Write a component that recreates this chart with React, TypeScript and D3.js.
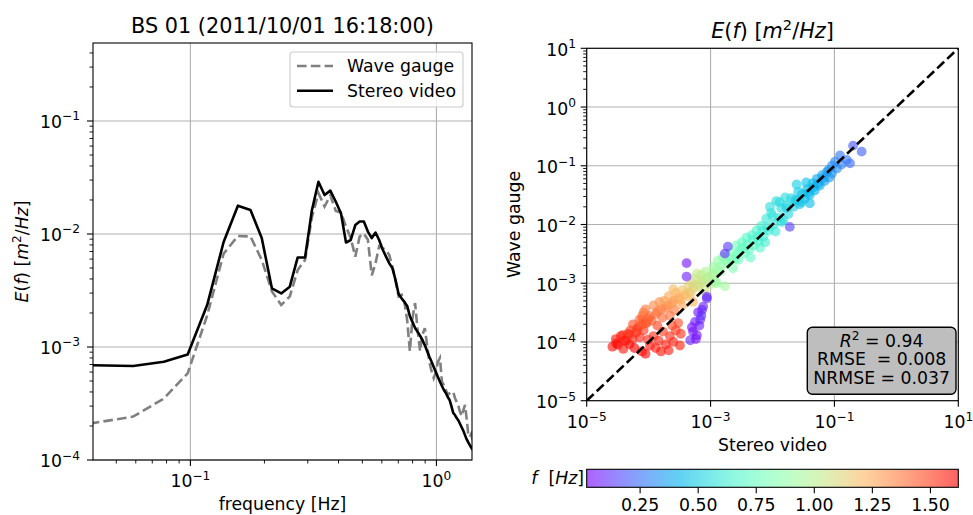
import React from 'react';
import * as d3 from 'd3';

// ---------- DATA ----------
// frequency grid of the spectra [Hz]
const freqs = [
  0.039, 0.0585, 0.078, 0.0975, 0.117, 0.1365, 0.156, 0.1755, 0.195, 0.2145,
  0.234, 0.2535, 0.273, 0.2925, 0.312, 0.3315, 0.351, 0.3705, 0.39, 0.4095,
  0.429, 0.4485, 0.468, 0.4875, 0.507, 0.5265, 0.546, 0.5655, 0.585, 0.6045,
  0.624, 0.6435, 0.663, 0.6825, 0.702, 0.7215, 0.741, 0.7605, 0.78, 0.7995,
  0.819, 0.8385, 0.858, 0.8775, 0.897, 0.9165, 0.936, 0.9555, 0.975, 0.9945,
  1.014, 1.0335, 1.053, 1.0725, 1.092, 1.1115, 1.131, 1.1505, 1.17, 1.1895,
  1.209, 1.2285, 1.248, 1.2675, 1.287, 1.3065, 1.326, 1.3455, 1.365, 1.3845, 1.404,
];

// Stereo video spectrum E(f) [m^2/Hz]
const stereoSpec = [
  6.9e-4, 6.8e-4, 7.4e-4, 8.6e-4, 2.35e-3, 8.5e-3, 1.78e-2, 1.63e-2, 9.2e-3, 3.3e-3,
  2.98e-3, 3.42e-3, 6.2e-3, 6.2e-3, 1.63e-2, 2.9e-2, 2.21e-2, 2.42e-2, 1.93e-2, 1.52e-2,
  8.4e-3, 8.85e-3, 1.2e-2, 1.29e-2, 1.29e-2, 1.05e-2, 9.2e-3, 1.03e-2, 8.85e-3, 7.3e-3,
  6.3e-3, 5.5e-3, 4.96e-3, 3.9e-3, 2.95e-3, 2.7e-3, 2.5e-3, 2.31e-3, 1.87e-3, 1.66e-3,
  1.47e-3, 1.36e-3, 1.26e-3, 1.15e-3, 1.04e-3, 9.2e-4, 8.2e-4, 7.4e-4, 6.65e-4, 6.0e-4,
  5.43e-4, 4.93e-4, 4.52e-4, 4.16e-4, 3.92e-4, 3.61e-4, 3.4e-4, 3.0e-4, 2.61e-4, 2.5e-4,
  2.35e-4, 2.24e-4, 2.08e-4, 1.94e-4, 1.81e-4, 1.66e-4, 1.53e-4, 1.44e-4, 1.36e-4, 1.29e-4, 1.23e-4,
];

// Wave gauge spectrum E(f) [m^2/Hz]
const gaugeSpec = [
  2.1e-4, 2.42e-4, 3.5e-4, 5.85e-4, 1.9e-3, 6.7e-3, 9.6e-3, 9.5e-3, 5.9e-3, 3.1e-3,
  2.35e-3, 2.8e-3, 4.8e-3, 5.9e-3, 1.42e-2, 2.3e-2, 1.75e-2, 2.2e-2, 1.6e-2, 1.55e-2,
  1.16e-2, 9.2e-3, 6.3e-3, 9.5e-3, 1.01e-2, 8.9e-3, 4.3e-3, 5.5e-3, 7.8e-3, 7.5e-3,
  7.2e-3, 6.5e-3, 5.1e-3, 3.8e-3, 2.8e-3, 2.9e-3, 2.5e-3, 1.73e-3, 9.2e-4, 1.81e-3,
  2.45e-3, 1.41e-3, 9.2e-4, 1.28e-3, 1.47e-3, 1.04e-3, 7.4e-4, 6.1e-4, 5.3e-4, 6.0e-4,
  7.4e-4, 8.0e-4, 4.9e-4, 4.6e-4, 4.16e-4, 3.76e-4, 3.9e-4, 4.0e-4, 4.0e-4, 3.54e-4,
  3.26e-4, 3.0e-4, 2.66e-4, 2.45e-4, 2.77e-4, 3.07e-4, 2.35e-4, 1.73e-4, 1.6e-4, 1.7e-4, 1.5e-4,
];

// Scatter: [stereo video E, wave gauge E, frequency]
const scatterPts: [number, number, number][] = [
  // red (high f)
  [2.6e-5, 8.3e-5, 1.60], [2.95e-5, 1.12e-4, 1.58], [3.2e-5, 8.9e-5, 1.61], [3.55e-5, 1.26e-4, 1.55],
  [3.9e-5, 7.6e-5, 1.57], [4.3e-5, 1.05e-4, 1.59], [4.6e-5, 1.38e-4, 1.52], [4.9e-5, 9.1e-5, 1.60],
  [5.1e-5, 1.58e-4, 1.50], [5.5e-5, 1.12e-4, 1.56], [5.9e-5, 7.9e-5, 1.62], [6.3e-5, 1.45e-4, 1.53],
  [6.8e-5, 1.8e-4, 1.48], [7.2e-5, 1.2e-4, 1.55], [7.8e-5, 6.9e-5, 1.61], [8.3e-5, 1.58e-4, 1.51],
  [8.9e-5, 6.3e-5, 1.60], [9.3e-5, 2.1e-4, 1.46], [9.8e-5, 1.1e-4, 1.54], [1.05e-4, 8.7e-5, 1.58],
  [3.8e-5, 1.3e-4, 1.54], [5.6e-5, 2.0e-4, 1.47], [7.9e-5, 2.4e-4, 1.44],
  [3.0e-5, 9.5e-5, 1.60], [4.0e-5, 1.05e-4, 1.57], [5.0e-5, 1.35e-4, 1.53], [6.5e-5, 1.65e-4, 1.50],
  [1.2e-4, 1.26e-4, 1.52], [1.3e-4, 7.9e-5, 1.56], [1.45e-4, 1.05e-4, 1.55], [1.58e-4, 6.9e-5, 1.58],
  [1.7e-4, 1.5e-4, 1.50], [1.9e-4, 9.1e-5, 1.56], [2.1e-4, 7.2e-5, 1.57], [2.2e-4, 1.26e-4, 1.53],
  [2.5e-4, 1.0e-4, 1.55], [2.75e-4, 1.58e-4, 1.50], [3.0e-4, 2.1e-4, 1.47], [3.3e-4, 1.38e-4, 1.52],
  [3.2e-4, 8.7e-5, 1.56], [2.4e-4, 1.9e-4, 1.48], [1.38e-4, 1.9e-4, 1.49],
  // orange
  [7.1e-5, 2.4e-4, 1.42], [7.9e-5, 2.8e-4, 1.40], [8.3e-5, 3.2e-4, 1.38], [8.9e-5, 3.6e-4, 1.36],
  [1.05e-4, 2.75e-4, 1.40], [1.2e-4, 4.2e-4, 1.33], [1.4e-4, 3.3e-4, 1.36], [1.66e-4, 2.6e-4, 1.41],
  [1.9e-4, 3.8e-4, 1.34], [2.2e-4, 2.8e-4, 1.39], [1.12e-4, 2.3e-4, 1.43], [8.9e-5, 2.1e-4, 1.44],
  [2.6e-4, 3.5e-4, 1.37], [1.5e-4, 4.8e-4, 1.31], [8.0e-5, 2.0e-4, 1.45], [1.0e-4, 2.5e-4, 1.42],
  [1.3e-4, 3.0e-4, 1.39], [1.6e-4, 3.6e-4, 1.36], [2.0e-4, 4.2e-4, 1.33], [2.5e-4, 5.0e-4, 1.30],
  // yellow-orange
  [1.78e-4, 5.0e-4, 1.28], [2.1e-4, 6.0e-4, 1.25], [2.4e-4, 4.5e-4, 1.29], [2.75e-4, 6.9e-4, 1.22],
  [3.2e-4, 5.2e-4, 1.24], [3.5e-4, 7.6e-4, 1.18], [4.0e-4, 6.0e-4, 1.20], [4.4e-4, 8.9e-4, 1.14],
  [4.8e-4, 6.6e-4, 1.16], [2.5e-4, 7.9e-4, 1.20], [3.5e-4, 4.2e-4, 1.26], [5.2e-4, 4.8e-4, 1.22],
  [3.0e-4, 5.6e-4, 1.26], [3.8e-4, 6.3e-4, 1.21], [4.5e-4, 7.0e-4, 1.17], [5.3e-4, 8.2e-4, 1.13],
  // yellow-green
  [5.0e-4, 1.0e-3, 1.10], [5.6e-4, 1.2e-3, 1.06], [6.3e-4, 8.7e-4, 1.08], [7.1e-4, 1.38e-3, 1.02],
  [7.6e-4, 1.05e-3, 1.04], [8.3e-4, 1.58e-3, 0.98], [9.1e-4, 1.2e-3, 1.00], [1.0e-3, 9.5e-4, 1.02],
  [6.0e-4, 1.45e-3, 1.04], [1.1e-3, 1.38e-3, 0.97], [7.9e-4, 7.6e-4, 1.06], [6.1e-4, 9.5e-4, 1.09],
  [7.3e-4, 1.1e-3, 1.05], [8.8e-4, 1.25e-3, 1.00], [1.05e-3, 1.4e-3, 0.96],
  // green
  [1.1e-3, 1.9e-3, 0.92], [1.2e-3, 1.05e-3, 0.95], [1.3e-3, 2.4e-3, 0.88], [1.45e-3, 1.58e-3, 0.90],
  [1.58e-3, 2.8e-3, 0.86], [1.7e-3, 8.9e-4, 0.93], [1.9e-3, 2.2e-3, 0.85], [2.1e-3, 3.3e-3, 0.82],
  [2.3e-3, 1.8e-3, 0.84], [1.26e-3, 1.0e-3, 0.90], [2.5e-3, 2.6e-3, 0.80], [1.25e-3, 1.7e-3, 0.92],
  [1.5e-3, 2.0e-3, 0.88], [1.8e-3, 2.4e-3, 0.85], [2.2e-3, 2.6e-3, 0.81],
  // aquamarine
  [2.6e-3, 4.4e-3, 0.78], [2.8e-3, 2.5e-3, 0.76], [3.2e-3, 5.0e-3, 0.74], [3.5e-3, 3.2e-3, 0.75],
  [3.8e-3, 6.0e-3, 0.71], [4.2e-3, 3.8e-3, 0.72], [4.6e-3, 6.6e-3, 0.68], [5.0e-3, 4.4e-3, 0.70],
  [5.5e-3, 7.9e-3, 0.66], [6.0e-3, 5.2e-3, 0.67], [3.0e-3, 3.6e-3, 0.77], [4.4e-3, 2.75e-3, 0.73],
  [6.3e-3, 4.0e-3, 0.69], [2.7e-3, 3.2e-3, 0.77], [3.3e-3, 4.0e-3, 0.74], [3.9e-3, 4.6e-3, 0.71],
  [4.8e-3, 5.6e-3, 0.68], [5.8e-3, 6.2e-3, 0.65],
  // cyan
  [6.6e-3, 9.5e-3, 0.64], [7.2e-3, 6.3e-3, 0.63], [7.9e-3, 1.26e-2, 0.60], [8.7e-3, 7.9e-3, 0.61],
  [9.5e-3, 1.58e-2, 0.58], [1.05e-2, 1.0e-2, 0.59], [1.15e-2, 2.5e-2, 0.55], [1.26e-2, 1.3e-2, 0.57],
  [1.38e-2, 1.9e-2, 0.55], [1.5e-2, 1.2e-2, 0.56], [1.66e-2, 2.1e-2, 0.53], [1.8e-2, 1.5e-2, 0.54],
  [2.0e-2, 2.8e-2, 0.52], [2.2e-2, 2.0e-2, 0.51], [2.45e-2, 4.8e-2, 0.50], [9.1e-3, 2.0e-2, 0.56],
  [1.3e-2, 2.4e-2, 0.54], [7.6e-3, 5.0e-3, 0.62], [1.12e-2, 7.6e-3, 0.60], [6.8e-3, 7.8e-3, 0.63],
  [8.2e-3, 9.0e-3, 0.61], [1.0e-2, 1.4e-2, 0.58], [1.4e-2, 1.1e-2, 0.55], [1.7e-2, 1.9e-2, 0.53],
  [1.6e-2, 2.9e-2, 0.55], [2.6e-2, 3.6e-2, 0.50],
  // blue
  [2.5e-2, 2.6e-2, 0.48], [2.75e-2, 2.2e-2, 0.47], [3.0e-2, 3.3e-2, 0.46], [3.3e-2, 2.75e-2, 0.45],
  [3.6e-2, 4.0e-2, 0.44], [4.0e-2, 3.2e-2, 0.43], [4.4e-2, 5.0e-2, 0.42], [4.8e-2, 3.8e-2, 0.41],
  [5.2e-2, 6.0e-2, 0.40], [5.8e-2, 4.6e-2, 0.39], [6.3e-2, 6.9e-2, 0.38], [6.9e-2, 5.5e-2, 0.37],
  [7.6e-2, 7.9e-2, 0.36], [8.3e-2, 6.3e-2, 0.35], [9.1e-2, 7.4e-2, 0.34], [4.0e-2, 2.3e-2, 0.44],
  [3.5e-2, 5.2e-2, 0.46], [2.3e-2, 2.6e-2, 0.50], [2.9e-2, 2.4e-2, 0.47], [3.8e-2, 3.5e-2, 0.44],
  [4.6e-2, 4.3e-2, 0.42], [5.5e-2, 5.0e-2, 0.39], [6.6e-2, 6.2e-2, 0.37], [8.0e-2, 8.5e-2, 0.35],
  // periwinkle (spectral peak)
  [1.02e-1, 1.17e-1, 0.30], [1.23e-1, 1.5e-1, 0.27], [1.78e-1, 1.1e-1, 0.24], [2.0e-1, 2.2e-1, 0.20],
  [2.75e-1, 1.74e-1, 0.22], [1.58e-1, 1.26e-1, 0.26], [9.1e-2, 1.0e-1, 0.32], [1.3e-1, 1.05e-1, 0.28],
  [1.1e-1, 9.0e-2, 0.31],
  // purple (low f)
  [4.1e-4, 2.2e-3, 0.06], [4.1e-4, 1.3e-3, 0.08], [6.3e-4, 3.2e-4, 0.05], [5.6e-4, 2.2e-4, 0.07],
  [6.8e-4, 2.4e-4, 0.10], [5.2e-4, 1.5e-4, 0.06], [4.7e-4, 1.07e-4, 0.09], [5.8e-4, 1.12e-4, 0.04],
  [7.6e-4, 4.0e-4, 0.08], [8.7e-4, 5.5e-4, 0.11], [5.0e-4, 1.78e-4, 0.05], [7.1e-4, 2.8e-4, 0.12],
  [6.0e-4, 1.3e-4, 0.06], [6.6e-4, 1.9e-4, 0.08], [7.3e-4, 3.5e-4, 0.10],
  [1.7e-3, 3.2e-3, 0.12], [1.9e-3, 4.2e-3, 0.14], [1.9e-2, 9.1e-3, 0.15], [8.7e-4, 5.9e-4, 0.10],
];

const leftXTickExps = [-1, 0];
const leftYTickExps = [-4, -3, -2, -1];
const rightXTickExps = [-5, -3, -1, 1];
const rightYTickExps = [-5, -4, -3, -2, -1, 0, 1];
const cbTicks = [0.25, 0.5, 0.75, 1.0, 1.25, 1.5];
const legendLabels = ['Wave gauge', 'Stereo video'];
const statsLines = ['= 0.94', 'RMSE  = 0.008', 'NRMSE = 0.037'];

// ---------- HELPERS ----------
const FONT = 'DejaVu Sans, sans-serif';
const FS = 17.3;
const SUP = 12.2;
const ALPHA = 0.62;

const rainbow = (t: number) => {
  const r = Math.min(1, Math.abs(2 * t - 0.5));
  const g = Math.max(0, Math.sin(Math.PI * t));
  const b = Math.max(0, Math.cos((Math.PI * t) / 2));
  return d3.rgb(r * 255, g * 255, b * 255).formatHex();
};

const fmtExp = (e: number) => (e < 0 ? '\u2212' + -e : String(e));

function PowLabel({ x, y, e, anchor }: { x: number; y: number; e: number; anchor: string }) {
  return (
    <text x={x} y={y} textAnchor={anchor} fontSize={FS} fontFamily={FONT} fill="#000">
      10
      <tspan dy={-7.5} fontSize={SUP}>
        {fmtExp(e)}
      </tspan>
    </text>
  );
}

function minorTicks(lo: number, hi: number) {
  const out: number[] = [];
  for (let e = Math.floor(Math.log10(lo)); e <= Math.ceil(Math.log10(hi)); e++) {
    for (let m = 2; m <= 9; m++) {
      const v = m * Math.pow(10, e);
      if (v >= lo && v <= hi) out.push(v);
    }
  }
  return out;
}

function EfText({ x, y, size, rotate }: { x: number; y: number; size: number; rotate?: boolean }) {
  const sup = size * 0.7;
  const dy = size * 0.42;
  return (
    <text
      x={rotate ? 0 : x}
      y={rotate ? 0 : y}
      transform={rotate ? `translate(${x},${y}) rotate(-90)` : undefined}
      textAnchor="middle"
      fontSize={size}
      fontFamily={FONT}
      fill="#000"
    >
      <tspan fontStyle="italic">E</tspan>(<tspan fontStyle="italic">f</tspan>) [<tspan fontStyle="italic">m</tspan>
      <tspan dy={-dy} fontSize={sup}>2</tspan>
      <tspan dy={dy}>/</tspan>
      <tspan fontStyle="italic">Hz</tspan>]
    </text>
  );
}

export default function App() {
  // left panel
  const L = { l: 93, r: 472, t: 43, b: 460 };
  const xL = d3.scaleLog().domain([0.0402, 1.395]).range([L.l, L.r]);
  const yL = d3.scaleLog().domain([1e-4, 0.49]).range([L.b, L.t]);
  const lineL = d3
    .line<number>()
    .x((_, i) => xL(freqs[i]))
    .y((d) => yL(d));

  // right panel
  const R = { l: 586.7, r: 958.3, t: 48.3, b: 400.7 };
  const xR = d3.scaleLog().domain([1e-5, 10]).range([R.l, R.r]);
  const yR = d3.scaleLog().domain([1e-5, 10]).range([R.b, R.t]);

  // colorbar
  const CB = { l: 586.7, r: 958.3, t: 469.3, b: 487.3 };
  const cbX = d3.scaleLinear().domain([0.02, 1.62]).range([CB.l, CB.r]);
  const cNorm = d3.scaleLinear().domain([0.02, 1.62]).range([0, 1]).clamp(true);
  const stops = d3.range(0, 1.00001, 0.025);

  const gridC = '#b0b0b0';
  const majorLen = 6;
  const minorLen = 3.5;

  return (
    <svg
      width={973}
      height={515}
      style={{ position: 'absolute', left: 0, top: 0, background: '#fff' }}
      fontFamily={FONT}
    >
      <defs>
        <clipPath id="clipL">
          <rect x={L.l} y={L.t} width={L.r - L.l} height={L.b - L.t} />
        </clipPath>
        <clipPath id="clipR">
          <rect x={R.l} y={R.t} width={R.r - R.l} height={R.b - R.t} />
        </clipPath>
        <linearGradient id="cbGrad" x1="0" x2="1" y1="0" y2="0">
          {stops.map((s) => (
            <stop key={s} offset={s} stopColor={rainbow(s)} />
          ))}
        </linearGradient>
      </defs>
      <rect x={0} y={0} width={973} height={515} fill="#fff" />

      {/* ================= LEFT PANEL ================= */}
      <text x={(L.l + L.r) / 2} y={32.7} textAnchor="middle" fontSize={20.8}>
        BS 01 (2011/10/01 16:18:00)
      </text>
      {leftXTickExps.map((e) => (
        <line key={'gx' + e} x1={xL(Math.pow(10, e))} x2={xL(Math.pow(10, e))} y1={L.t} y2={L.b} stroke={gridC} strokeWidth={1.1} />
      ))}
      {leftYTickExps.map((e) => (
        <line key={'gy' + e} x1={L.l} x2={L.r} y1={yL(Math.pow(10, e))} y2={yL(Math.pow(10, e))} stroke={gridC} strokeWidth={1.1} />
      ))}
      <g clipPath="url(#clipL)">
        <path d={lineL(gaugeSpec) || ''} fill="none" stroke="#808080" strokeWidth={2.6} strokeDasharray="9.6,4.2" />
        <path d={lineL(stereoSpec) || ''} fill="none" stroke="#000" strokeWidth={2.6} strokeLinejoin="round" />
      </g>
      <rect x={L.l} y={L.t} width={L.r - L.l} height={L.b - L.t} fill="none" stroke="#000" strokeWidth={1.1} />
      {leftXTickExps.map((e) => (
        <g key={'tx' + e}>
          <line x1={xL(Math.pow(10, e))} x2={xL(Math.pow(10, e))} y1={L.b} y2={L.b + majorLen} stroke="#000" strokeWidth={1.1} />
          <PowLabel x={xL(Math.pow(10, e))} y={487} e={e} anchor="middle" />
        </g>
      ))}
      {minorTicks(0.0402, 1.395).map((v) => (
        <line key={'mx' + v} x1={xL(v)} x2={xL(v)} y1={L.b} y2={L.b + minorLen} stroke="#000" strokeWidth={0.9} />
      ))}
      {leftYTickExps.map((e) => (
        <g key={'ty' + e}>
          <line x1={L.l - majorLen} x2={L.l} y1={yL(Math.pow(10, e))} y2={yL(Math.pow(10, e))} stroke="#000" strokeWidth={1.1} />
          <PowLabel x={80} y={yL(Math.pow(10, e)) + 7} e={e} anchor="end" />
        </g>
      ))}
      {minorTicks(1e-4, 0.49).map((v) => (
        <line key={'my' + v} x1={L.l - minorLen} x2={L.l} y1={yL(v)} y2={yL(v)} stroke="#000" strokeWidth={0.9} />
      ))}
      <text x={(L.l + L.r) / 2} y={510} textAnchor="middle" fontSize={FS}>
        frequency [Hz]
      </text>
      <EfText x={28} y={(L.t + L.b) / 2} size={FS} rotate />
      {/* legend */}
      <rect x={290} y={52} width={173} height={55} rx={3} fill="#fff" fillOpacity={0.8} stroke="#cccccc" strokeWidth={1.1} />
      <line x1={297} x2={333} y1={66} y2={66} stroke="#808080" strokeWidth={2.6} strokeDasharray="9.6,4.2" />
      <line x1={297} x2={333} y1={90.7} y2={90.7} stroke="#000" strokeWidth={2.6} />
      <text x={347} y={71.7} fontSize={FS}>
        {legendLabels[0]}
      </text>
      <text x={347} y={96.7} fontSize={FS}>
        {legendLabels[1]}
      </text>

      {/* ================= RIGHT PANEL ================= */}
      <EfText x={(R.l + R.r) / 2} y={38.3} size={20.8} />
      {rightXTickExps.map((e) => (
        <line key={'rgx' + e} x1={xR(Math.pow(10, e))} x2={xR(Math.pow(10, e))} y1={R.t} y2={R.b} stroke={gridC} strokeWidth={1.1} />
      ))}
      {rightYTickExps.map((e) => (
        <line key={'rgy' + e} x1={R.l} x2={R.r} y1={yR(Math.pow(10, e))} y2={yR(Math.pow(10, e))} stroke={gridC} strokeWidth={1.1} />
      ))}
      <g clipPath="url(#clipR)">
        {scatterPts.map((p, i) => (
          <circle key={'s' + i} cx={xR(p[0])} cy={yR(p[1])} r={4.9} fill={rainbow(cNorm(p[2]))} fillOpacity={ALPHA} />
        ))}
        <line x1={xR(1e-5)} y1={yR(1e-5)} x2={xR(10)} y2={yR(10)} stroke="#000" strokeWidth={2.6} strokeDasharray="9.6,4.2" />
      </g>
      <rect x={R.l} y={R.t} width={R.r - R.l} height={R.b - R.t} fill="none" stroke="#000" strokeWidth={1.1} />
      {rightXTickExps.map((e) => (
        <g key={'rtx' + e}>
          <line x1={xR(Math.pow(10, e))} x2={xR(Math.pow(10, e))} y1={R.b} y2={R.b + majorLen} stroke="#000" strokeWidth={1.1} />
          <PowLabel x={xR(Math.pow(10, e))} y={428} e={e} anchor="middle" />
        </g>
      ))}
      {rightYTickExps.map((e) => (
        <g key={'rty' + e}>
          <line x1={R.l - majorLen} x2={R.l} y1={yR(Math.pow(10, e))} y2={yR(Math.pow(10, e))} stroke="#000" strokeWidth={1.1} />
          <PowLabel x={576} y={yR(Math.pow(10, e)) + 7.5} e={e} anchor="end" />
        </g>
      ))}
      {minorTicks(1e-5, 10).map((v) => (
        <line key={'rmy' + v} x1={R.l - minorLen} x2={R.l} y1={yR(v)} y2={yR(v)} stroke="#000" strokeWidth={0.9} />
      ))}
      <text x={(R.l + R.r) / 2} y={451} textAnchor="middle" fontSize={FS}>
        Stereo video
      </text>
      <text transform={`translate(520,${(R.t + R.b) / 2}) rotate(-90)`} textAnchor="middle" fontSize={FS}>
        Wave gauge
      </text>
      {/* stats box */}
      <rect x={807.3} y={327.3} width={148.7} height={67} rx={5} fill="#bebebe" stroke="#000" strokeWidth={1.4} />
      <text x={881.7} y={346.7} textAnchor="middle" fontSize={FS} style={{ whiteSpace: 'pre' }}>
        <tspan fontStyle="italic">R</tspan>
        <tspan dy={-7} fontSize={SUP}>2</tspan>
        <tspan dy={7}>{' ' + statsLines[0]}</tspan>
      </text>
      <text x={881.7} y={365.2} textAnchor="middle" fontSize={FS} style={{ whiteSpace: 'pre' }}>
        {statsLines[1]}
      </text>
      <text x={881.7} y={384} textAnchor="middle" fontSize={FS} style={{ whiteSpace: 'pre' }}>
        {statsLines[2]}
      </text>

      {/* ================= COLORBAR ================= */}
      <rect x={CB.l} y={CB.t} width={CB.r - CB.l} height={CB.b - CB.t} fill="url(#cbGrad)" opacity={ALPHA} />
      <rect x={CB.l} y={CB.t} width={CB.r - CB.l} height={CB.b - CB.t} fill="none" stroke="#000" strokeWidth={1.1} />
      {cbTicks.map((t) => (
        <g key={'cb' + t}>
          <line x1={cbX(t)} x2={cbX(t)} y1={CB.b} y2={CB.b + majorLen} stroke="#000" strokeWidth={1.1} />
          <text x={cbX(t)} y={510.5} textAnchor="middle" fontSize={FS}>
            {t.toFixed(2)}
          </text>
        </g>
      ))}
      <text x={584} y={484} textAnchor="end" fontSize={FS} style={{ whiteSpace: 'pre' }}>
        <tspan fontStyle="italic">f</tspan>
        {'  ['}
        <tspan fontStyle="italic">Hz</tspan>]
      </text>
    </svg>
  );
}
